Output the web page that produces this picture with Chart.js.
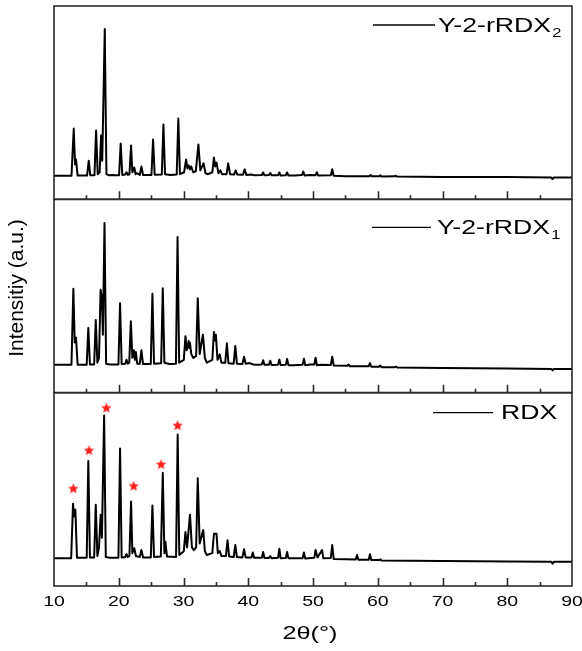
<!DOCTYPE html>
<html>
<head>
<meta charset="utf-8">
<script src="https://cdn.jsdelivr.net/npm/chart.js@4.4.1/dist/chart.umd.min.js"></script>
<style>
  html, body { margin: 0; padding: 0; background: #fff; }
  #wrap { width: 582px; height: 651px; position: relative; }
</style>
</head>
<body>
<div id="wrap"><canvas id="xrd"></canvas></div>
<script>
// ---- data: [2theta, intensity (a.u.)] ----
const xTicks = [10, 20, 30, 40, 50, 60, 70, 80, 90];
const seriesNames = ['Y-2-rRDX', 'Y-2-rRDX', 'RDX'];
const seriesSubs = ['2', '1', ''];

// top panel, Y-2-rRDX2
const rdx2 = [[10,12.2],[12.7,12.2],[13.05,36.6],[13.25,18],[13.4,20.6],[13.65,12.3],
  [15.1,12.3],[15.37,20],[15.6,12.4],
  [16.25,12.5],[16.5,35.6],[16.75,13],[17.05,14],[17.27,33],[17.45,20],[17.84,88.1],[18.1,13],
  [18.5,12.4],[19.0,12.6],[19.5,12.4],
  [20.05,12.5],[20.3,28.9],[20.55,12.6],
  [21.0,12.8],[21.2,14],[21.4,12.7],[21.65,13],[21.9,27.8],[22.1,14],[22.4,16.5],[22.6,13],[22.8,13.5],
  [23.25,12.6],[23.5,17],[23.75,12.6],
  [25.05,12.6],[25.3,30.9],[25.55,12.7],
  [26.65,12.8],[26.9,38.7],[27.15,13],
  [28.0,12.6],
  [28.95,12.8],[29.2,41.8],[29.45,13],
  [30.1,14],[30.4,20.6],[30.6,16],[30.8,17.5],[31.0,15.5],[31.2,17],[31.5,14],[31.9,14.5],
  [32.3,28.4],[32.6,15],[33.1,18.6],[33.4,13.5],[33.8,13],
  [34.45,14],[34.7,21.6],[34.9,17],[35.1,19],[35.4,13.5],[35.7,15],[35.95,13],
  [36.65,13],[36.9,18.6],[37.2,13],
  [37.8,12.8],[38.06,15],[38.3,12.8],
  [39.2,12.7],[39.45,15.5],[39.7,12.6],[40.5,12.8],[41,12.4],[42.1,12.6],[42.3,13.9],[42.5,12.4],
  [43.2,12.6],[43.4,13.6],[43.6,12.4],[44.6,12.5],[44.8,13.9],[45.0,12.3],[45.8,12.5],[46,13.9],[46.2,12.3],[47.2,12.3],
  [48.3,12.6],[48.5,14.4],[48.7,12.3],[49.5,12.6],[50.4,12.5],[50.6,14],[50.8,12.3],[52.75,12.4],[52.97,15.6],[53.2,12.2],
  [55,12],[56,11.9],[58.7,12],[58.9,12.6],[59.1,11.9],[60.2,11.9],[60.4,12.4],[60.6,11.8],[62.6,11.9],[62.8,12.2],[63.0,11.8],
  [70,11.6],[80,11.5],[86.8,11.3],[87.0,10.5],[87.2,11.3],[90,11.3]];

// middle panel, Y-2-rRDX1
const rdx1 = [[10,14.4],[12.7,14.4],[12.99,53.7],[13.2,26],[13.4,28.4],[13.65,14.5],
  [15.05,14.5],[15.3,33.5],[15.55,14.6],
  [16.2,14.6],[16.45,37.6],[16.7,15.5],[16.95,18],[17.2,53.2],[17.4,49],[17.55,30],[17.8,87.7],[18.05,15],
  [18.6,14.6],[19.95,14.6],[20.2,46.3],[20.45,14.8],
  [21.0,15],[21.2,17],[21.4,15],[21.62,15.5],[21.87,36.9],[22.1,18],[22.35,22],[22.5,17],[22.65,21],[22.85,15],
  [23.25,15],[23.5,21.9],[23.75,14.8],
  [24.95,14.8],[25.2,51.1],[25.45,15],
  [26.55,15.2],[26.8,54],[27.05,15.5],
  [27.8,14.8],
  [28.83,15],[29.08,80.5],[29.33,15.5],
  [30.05,17],[30.3,29.2],[30.5,22],[30.8,26.7],[30.9,23],[31.0,25.8],[31.2,20],[31.5,18],[31.95,19],
  [32.2,48.9],[32.5,20],[33.0,30],[33.3,18],[33.6,15.5],
  [34.45,17],[34.7,31.4],[34.85,27],[35.0,30],[35.25,17],[35.6,19.8],[35.85,15.5],
  [36.45,15.5],[36.7,25.5],[36.95,15.2],
  [37.75,15],[38.0,24.1],[38.25,15],
  [39.1,14.8],[39.35,18.6],[39.6,15],[40.2,15.3],[40.8,14.6],[41.5,14.4],[42.1,14.6],[42.3,16.8],[42.5,14.4],
  [43.2,14.5],[43.4,16.5],[43.6,14.3],[44.6,14.5],[44.8,17.2],[45.0,14.3],[45.8,14.5],[46.0,17.4],[46.2,14.2],[47,14.2],
  [48.4,14.5],[48.6,17.6],[48.8,14.2],[49.6,14.6],[50.2,14.6],[50.4,18.1],[50.6,14.2],[51.3,14.5],[52.75,14.3],[52.97,18.6],[53.2,14],
  [55.3,13.9],[55.5,14.6],[55.7,13.6],[58.6,13.7],[58.8,15.3],[59.0,13.4],[60.2,13.4],[60.4,14],[60.6,13.2],[62.6,13.2],[62.8,13.5],[63.0,13],
  [70,12.8],[80,12.5],[86.8,12.3],[87.0,11.5],[87.2,12.3],[90,12.3]];

// bottom panel, RDX
const rdx = [[10,14.4],[12.65,14.4],[12.94,42.6],[13.1,36],[13.3,39.5],[13.55,14.6],
  [15.05,14.6],[15.3,64.6],[15.55,14.8],
  [16.2,14.8],[16.45,42],[16.7,15.5],[16.95,20],[17.2,36.9],[17.4,25],[17.74,88.2],[18.0,15],
  [18.6,14.6],[19.95,14.6],[20.2,71.1],[20.45,14.8],
  [21.0,15],[21.2,16.5],[21.4,15],[21.65,15.5],[21.9,43.7],[22.1,17],[22.4,19.5],[22.65,15.5],
  [23.25,15],[23.5,18.6],[23.75,14.8],
  [24.95,14.8],[25.2,41.7],[25.45,15],
  [26.5,15.3],[26.8,58.6],[27.05,17],[27.2,22.9],[27.45,15.2],
  [28.85,15],[29.1,78.3],[29.35,16],
  [30.05,18],[30.3,27.9],[30.55,20],[31.0,36.9],[31.3,20],[31.6,18.5],[31.95,20],
  [32.2,55.7],[32.5,22],[33.05,28.9],[33.3,18],[33.6,16],
  [34.45,17],[34.7,27],[35.1,27],[35.3,17],[35.6,18.1],[35.85,15.5],
  [36.55,15.5],[36.8,23.6],[37.05,15.3],
  [37.75,15],[38.0,21.2],[38.25,15],
  [39.1,14.8],[39.35,19],[39.6,14.8],[40.5,14.7],[40.7,17.3],[40.9,14.6],[42.1,14.6],[42.3,17.6],[42.5,14.5],
  [43.2,14.5],[43.4,15.5],[43.6,14.4],[44.6,14.6],[44.8,19.3],[45.0,14.4],[45.8,14.5],[46,17.6],[46.2,14.4],[47.2,14.3],
  [48.4,14.4],[48.6,17.3],[48.8,14.2],[49.7,14.5],[50.2,14.6],[50.4,18.6],[50.7,14.8],[51.4,18.6],[51.6,14.3],[52.75,14.5],[52.97,21.2],[53.2,14.0],
  [55,13.8],[56.6,13.7],[56.8,16],[57.0,13.6],[58.6,13.6],[58.8,16.4],[59.0,13.4],[60.2,13.4],[60.4,13.8],[60.6,13.2],
  [65,13],[70,12.9],[80,12.7],[86.8,12.5],[87.0,11.6],[87.2,12.5],[90,12.5]];

// red stars over the RDX peaks
const starX = [12.98, 15.41, 18.08, 22.31, 26.53, 29.1];
const starY = [50.3, 70.0, 92.0, 51.6, 62.8, 82.9];

// small filled star used as point style
function starImage(r, color) {
  const c = document.createElement('canvas');
  c.width = c.height = Math.ceil(r * 2 + 2);
  const g = c.getContext('2d');
  g.translate(c.width / 2, c.height / 2);
  g.beginPath();
  for (let i = 0; i < 10; i++) {
    const rad = i % 2 ? r * 0.45 : r;
    const a = -Math.PI / 2 + i * Math.PI / 5;
    g.lineTo(Math.cos(a) * rad, Math.sin(a) * rad);
  }
  g.closePath();
  g.fillStyle = color;
  g.fill();
  return c;
}

const FONT = "Arial, 'Liberation Sans', sans-serif";

// text stretched horizontally like the original figure
function wideText(ctx, txt, x, y, sx, align) {
  ctx.save();
  ctx.translate(x, y);
  ctx.scale(sx, 1);
  ctx.textAlign = align;
  ctx.fillText(txt, 0, 0);
  ctx.restore();
}

// frames, inward ticks, legends and axis texts
const panelDeco = {
  id: 'panelDeco',
  afterDraw(chart) {
    const ctx = chart.ctx;
    const xs = chart.scales.x;
    const area = chart.chartArea;
    const panels = [chart.scales.yTop, chart.scales.yMid, chart.scales.yBot];
    ctx.save();

    ctx.strokeStyle = '#2b2b2b';
    ctx.lineWidth = 1.6;
    panels.forEach(p => {
      ctx.strokeRect(area.left, p.top, area.right - area.left, p.bottom - p.top);
      ctx.beginPath();
      for (let v = 15; v < 90; v += 5) {
        const px = Math.round(xs.getPixelForValue(v)) + 0.5;
        const len = v % 10 === 0 ? 8 : 4;
        ctx.moveTo(px, p.bottom);
        ctx.lineTo(px, p.bottom - len);
      }
      ctx.stroke();
    });

    // legends
    const leg = [
      {x1: 373, x2: 435, tx: 438, dy: 19},
      {x1: 372, x2: 431, tx: 437, dy: 28},
      {x1: 433, x2: 493, tx: 501, dy: 20}
    ];
    ctx.fillStyle = '#000';
    ctx.textBaseline = 'middle';
    panels.forEach((p, i) => {
      const L = leg[i];
      const y = p.top + L.dy;
      ctx.strokeStyle = '#000';
      ctx.lineWidth = 1.3;
      ctx.beginPath();
      ctx.moveTo(L.x1, y);
      ctx.lineTo(L.x2, y);
      ctx.stroke();
      ctx.font = '21px ' + FONT;
      const sx = 1.27;
      wideText(ctx, seriesNames[i], L.tx, y + 1, sx, 'left');
      if (seriesSubs[i]) {
        const w = ctx.measureText(seriesNames[i]).width * sx;
        ctx.font = '13px ' + FONT;
        wideText(ctx, seriesSubs[i], L.tx + w + 1, y + 8, sx, 'left');
      }
    });

    // x tick labels
    ctx.font = '15px ' + FONT;
    xTicks.forEach(v => {
      wideText(ctx, String(v), xs.getPixelForValue(v), area.bottom + 16, 1.3, 'center');
    });

    // x title
    ctx.font = '19px ' + FONT;
    wideText(ctx, '2θ(°)', (area.left + area.right) / 2 - 3, area.bottom + 48, 1.33, 'center');

    // y title
    ctx.save();
    ctx.translate(17, 288);
    ctx.rotate(-Math.PI / 2);
    ctx.font = '21px ' + FONT;
    ctx.textAlign = 'center';
    ctx.fillText('Intensitiy (a.u.)', 0, 0);
    ctx.restore();

    ctx.restore();
  }
};

const lineStyle = {
  borderColor: '#000',
  borderWidth: 2,
  borderJoinStyle: 'round',
  pointRadius: 0,
  tension: 0,
  fill: false
};

new Chart(document.getElementById('xrd'), {
  type: 'line',
  data: {
    datasets: [
      Object.assign({label: 'Y-2-rRDX2', data: rdx2, yAxisID: 'yTop'}, lineStyle),
      Object.assign({label: 'Y-2-rRDX1', data: rdx1, yAxisID: 'yMid'}, lineStyle),
      Object.assign({label: 'RDX', data: rdx, yAxisID: 'yBot'}, lineStyle),
      {
        label: 'stars',
        data: starX.map((v, i) => ({x: v, y: starY[i]})),
        yAxisID: 'yBot',
        showLine: false,
        pointStyle: starImage(5.5, '#ff2020'),
        pointRadius: 5
      }
    ]
  },
  options: {
    responsive: true,
    maintainAspectRatio: false,
    animation: false,
    layout: { padding: {left: 54, right: 10, top: 3, bottom: 65} },
    plugins: { legend: {display: false}, tooltip: {enabled: false} },
    scales: {
      x: { type: 'linear', min: 10, max: 90, display: false },
      // stacked panels are laid out from the bottom up
      yBot: { type: 'linear', min: 0, max: 100, display: false, stack: 'panels', stackWeight: 1 },
      yMid: { type: 'linear', min: 0, max: 100, display: false, stack: 'panels', stackWeight: 1 },
      yTop: { type: 'linear', min: 0, max: 100, display: false, stack: 'panels', stackWeight: 1 }
    }
  },
  plugins: [panelDeco]
});
</script>
</body>
</html>
